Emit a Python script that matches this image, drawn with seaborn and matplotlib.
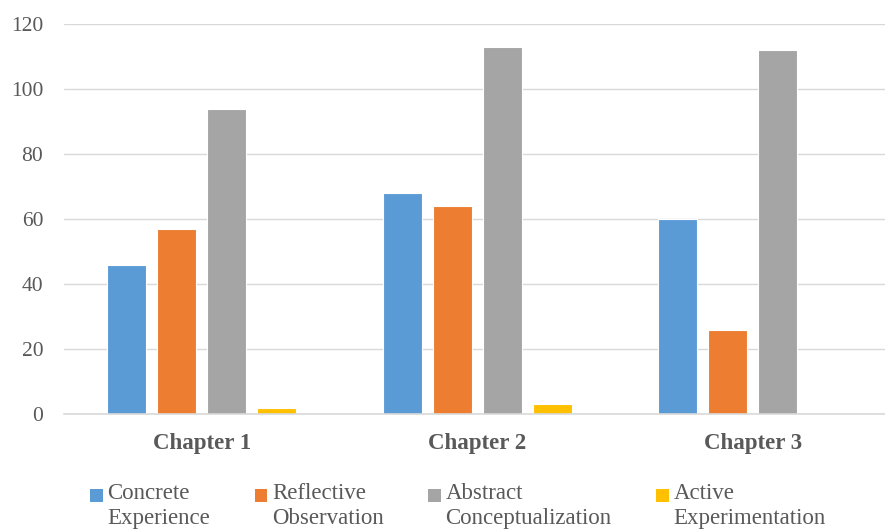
import matplotlib
matplotlib.use("Agg")
import matplotlib.pyplot as plt
from matplotlib.patches import Rectangle
from matplotlib.legend_handler import HandlerPatch
import seaborn as sns
import pandas as pd

chapters = ["Chapter 1", "Chapter 2", "Chapter 3"]
styles = ["Concrete\nExperience", "Reflective\nObservation",
          "Abstract\nConceptualization", "Active\nExperimentation"]
concrete = [46, 68, 60]
reflective = [57, 64, 26]
abstract = [94, 113, 112]
active = [2, 3, 0]
y_ticks = [0, 20, 40, 60, 80, 100, 120]
colors = ["#5B9BD5", "#ED7D31", "#A5A5A5", "#FFC000"]

rows = []
for style, vals in zip(styles, [concrete, reflective, abstract, active]):
    for ch, v in zip(chapters, vals):
        rows.append({"chapter": ch, "style": style, "count": v})
df = pd.DataFrame(rows)

sns.set_theme(style="white")
plt.rcParams["font.family"] = ["Liberation Serif", "DejaVu Serif"]
text_gray = "#595959"

fig = plt.figure(figsize=(8.85, 5.29), dpi=100)
ax = fig.add_axes([64 / 885, 1 - 414 / 529, 1 - 64 / 885, (414 - 24) / 529])

sns.barplot(data=df, x="chapter", y="count", hue="style", order=chapters,
            hue_order=styles, palette=colors, width=0.726, gap=0.22,
            edgecolor="white", linewidth=0.8, saturation=1, legend=False, ax=ax)

ax.set_ylim(0, 120)
ax.set_xlim(-0.5, 2.48)
ax.set_yticks(y_ticks)
ax.yaxis.grid(True, color="#D9D9D9", linewidth=1.0)
ax.set_axisbelow(True)
for s in ["top", "right", "left"]:
    ax.spines[s].set_visible(False)
ax.spines["bottom"].set_color("#D9D9D9")
ax.spines["bottom"].set_linewidth(1.2)
ax.set_xlabel("")
ax.set_ylabel("")
ax.tick_params(axis="y", length=0, pad=15, labelsize=15.5, labelcolor=text_gray)
ax.tick_params(axis="x", length=0, pad=14, labelsize=16.5, labelcolor=text_gray)
for lbl in ax.get_xticklabels():
    lbl.set_fontweight("bold")


def top_square(legend, orig_handle, xdescent, ydescent, width, height, fontsize):
    side = width
    return Rectangle((-xdescent, -ydescent + height - side * 1.3), side, side)


handles = [Rectangle((0, 0), 1, 1, facecolor=c, edgecolor="none") for c in colors]
leg = fig.legend(handles, styles, loc="upper left",
                 bbox_to_anchor=(90 / 885, 1 - 483 / 529), ncol=4, frameon=False,
                 fontsize=16.5, handlelength=0.55, handleheight=2.5,
                 handletextpad=0.2, columnspacing=1.95, borderpad=0,
                 borderaxespad=0,
                 handler_map={Rectangle: HandlerPatch(patch_func=top_square)})
for t in leg.get_texts():
    t.set_color(text_gray)
    t.set_linespacing(1.26)

fig.savefig("out.png", dpi=100)
